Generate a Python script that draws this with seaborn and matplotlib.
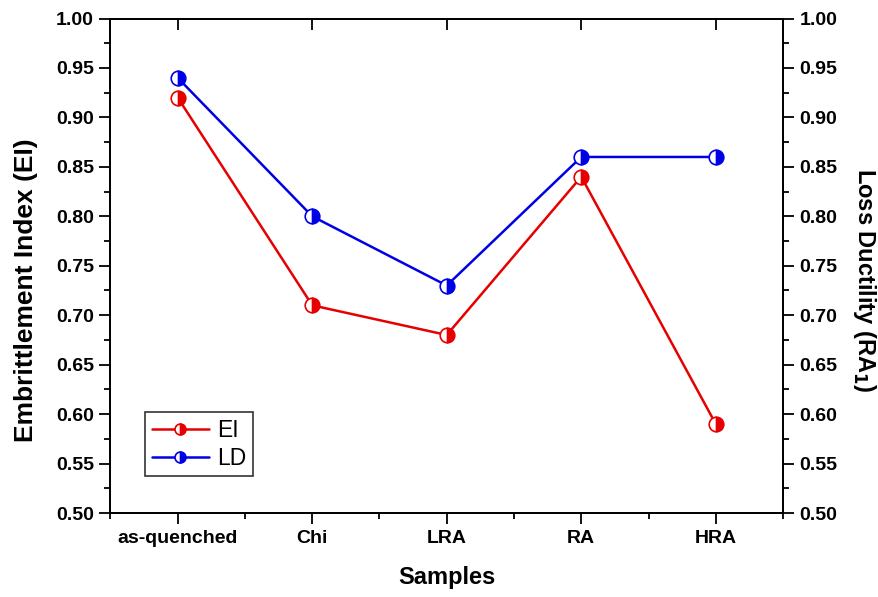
import numpy as np
import pandas as pd
import matplotlib
matplotlib.use("Agg")
import matplotlib.pyplot as plt
from matplotlib.ticker import MultipleLocator, FixedLocator
import seaborn as sns

samples = ["as-quenched", "Chi", "LRA", "RA", "HRA"]
ei_values = [0.92, 0.71, 0.68, 0.84, 0.59]
ld_values = [0.94, 0.80, 0.73, 0.86, 0.86]
y_ticks = [0.50, 0.55, 0.60, 0.65, 0.70, 0.75, 0.80, 0.85, 0.90, 0.95, 1.00]

sns.set_theme(style="ticks")
plt.rcParams["font.family"] = ["Liberation Sans", "DejaVu Sans"]
plt.rcParams["text.color"] = "black"
plt.rcParams["axes.labelcolor"] = "black"
plt.rcParams["xtick.color"] = "black"
plt.rcParams["ytick.color"] = "black"

df = pd.DataFrame({
    "pos": np.arange(len(samples)),
    "Sample": samples,
    "EI": ei_values,
    "LD": ld_values,
})

fig = plt.figure(figsize=(8.79, 5.97), dpi=100)
ax = fig.add_axes([0.1257, 0.1407, 0.7651, 0.8283])
ax2 = ax.twinx()

marker_kw = dict(marker="o", markersize=10.5, fillstyle="right",
                 markerfacecoloralt="white", markeredgewidth=1.2)

sns.lineplot(data=df, x="pos", y="EI", ax=ax, color="#e60000", linewidth=1.8,
             markerfacecolor="#e60000", markeredgecolor="#e60000",
             label="EI", legend=False, **marker_kw)
sns.lineplot(data=df, x="pos", y="LD", ax=ax2, color="#0000e6", linewidth=1.8,
             markerfacecolor="#0000e6", markeredgecolor="#0000e6",
             label="LD", legend=False, **marker_kw)

for a in (ax, ax2):
    a.set_ylim(0.5, 1.0)
    a.set_yticks(y_ticks)
    a.set_yticklabels([f"{v:.2f}" for v in y_ticks])
    a.yaxis.set_minor_locator(MultipleLocator(0.025))
    a.set_xlim(-0.5, len(samples) - 0.5)
    for s in a.spines.values():
        s.set_linewidth(1.3)
        s.set_color("black")

ax.set_xticks(df["pos"])
ax.set_xticklabels(samples)
ax.xaxis.set_minor_locator(FixedLocator(np.arange(-0.5, len(samples), 1.0)))

tick_font = dict(labelsize=14, width=1.3, color="black", labelcolor="black")
ax.tick_params(axis="both", which="major", direction="out", length=8, pad=4, **tick_font)
ax.tick_params(axis="both", which="minor", direction="out", length=4, width=1.3)
ax2.tick_params(axis="y", which="major", direction="out", length=8, pad=4, **tick_font)
ax2.tick_params(axis="y", which="minor", direction="out", length=4, width=1.3)

for lab in ax.get_xticklabels() + ax.get_yticklabels() + ax2.get_yticklabels():
    lab.set_fontweight("bold")

# inward ticks along the top frame at each sample
top = ax.secondary_xaxis("top")
top.set_xticks(df["pos"])
top.tick_params(axis="x", direction="in", length=8, width=1.3, labeltop=False)
top.spines["top"].set_linewidth(1.3)

ax.set_xlabel("Samples", fontsize=17, fontweight="bold", labelpad=14)
ax.set_ylabel("Embrittlement Index (EI)", fontsize=19, fontweight="bold", labelpad=13)
ax2.set_ylabel("Loss Ductility (RA$_\\mathbf{1}$)", fontsize=17, fontweight="bold",
               rotation=270, labelpad=29)
ax.yaxis.label.set_y(0.45)
ax2.yaxis.label.set_y(0.47)
ax.grid(False)
ax2.grid(False)

handles = ax.get_lines()[:1] + ax2.get_lines()[:1]
leg = ax2.legend(handles, ["EI", "LD"], loc="lower left",
                 bbox_to_anchor=(0.051, 0.074), borderaxespad=0,
                 fontsize=16.5, handlelength=2.5, markerscale=0.75,
                 frameon=True, fancybox=False, borderpad=0.3, labelspacing=0.2,
                 handletextpad=0.35)
leg.get_frame().set_edgecolor("black")
leg.get_frame().set_linewidth(1.2)
for t in leg.get_texts():
    t.set_color("black")

fig.savefig("out.png", dpi=100)
